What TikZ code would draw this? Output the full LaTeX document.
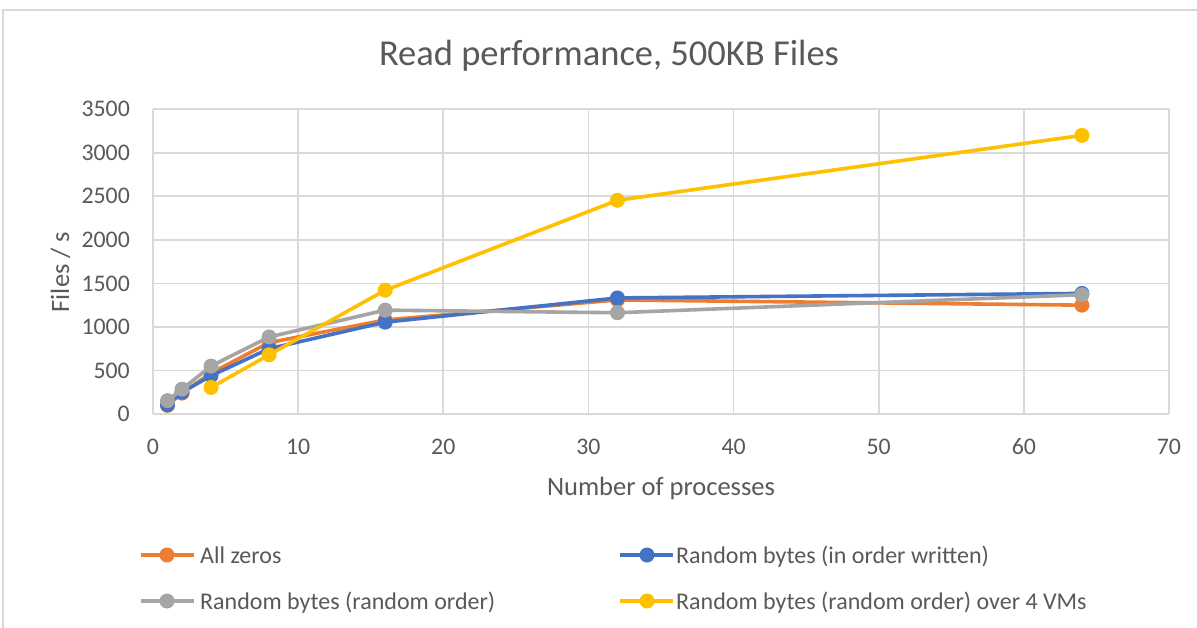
\documentclass[tikz,border=0pt]{standalone}
\usepackage{fontspec}
\setmainfont{Carlito}
\definecolor{txt}{HTML}{595959}
\definecolor{grid}{HTML}{D9D9D9}
\definecolor{sorange}{HTML}{ED7D31}
\definecolor{sblue}{HTML}{4472C4}
\definecolor{sgray}{HTML}{A5A5A5}
\definecolor{syellow}{HTML}{FFC000}
\tikzset{
  gridline/.style={draw=grid, line width=1.7pt},
  series/.style={line width=3.6pt, line join=round},
  ticklab/.style={text=txt, font=\fontsize{23.8}{26}\selectfont, inner sep=0pt},
  axtitle/.style={text=txt, font=\fontsize{26.5}{29}\selectfont, inner sep=0pt},
  leglab/.style={text=txt, font=\fontsize{24}{26}\selectfont, inner sep=0pt, anchor=base west},
}
\begin{document}
\begin{tikzpicture}[x=1pt,y=-1pt]
\useasboundingbox (0,0) rectangle (1197,627);
\fill[white] (0,0) rectangle (1197,627);
% frame
\draw[grid, line width=1.7pt] (3,640) -- (3,10) -- (1210,10);
% title
\node[text=txt, font=\fontsize{36.5}{40}\selectfont, inner sep=0pt, anchor=base] (title) at (609,65) {Read performance, 500KB Files};
% chart
\begin{scope}[shift={(153pt,-414pt)}, x=14.514pt, y=0.08706pt]
  \foreach \v in {500,1000,...,3500} \draw[gridline] (0,\v) -- (70,\v);
  \foreach \u in {0,10,...,70} \draw[gridline] (\u,0) -- (\u,3500);
  \draw[gridline] (0,0) -- (70,0);
  \foreach \v in {0,500,...,3500} \node[ticklab, anchor=east] (yl\v) at ([xshift=-23pt]0,\v) {\v};
  \foreach \u in {0,10,...,70} \node[ticklab] (xl\u) at ([yshift=-33pt]\u,0) {\u};
  % series
  \draw[series, sorange] (1,100) -- (2,240) -- (4,470) -- (8,820) -- (16,1080) -- (32,1310) -- (64,1250);
  \foreach \p in {(1,100),(2,240),(4,470),(8,820),(16,1080),(32,1310),(64,1250)} \fill[sorange] \p circle[radius=7.5pt];
  \draw[series, sblue] (1,105) -- (2,250) -- (4,440) -- (8,750) -- (16,1055) -- (32,1333) -- (64,1385);
  \foreach \p in {(1,105),(2,250),(4,440),(8,750),(16,1055),(32,1333),(64,1385)} \fill[sblue] \p circle[radius=7.5pt];
  \draw[series, sgray] (1,153) -- (2,285) -- (4,550) -- (8,885) -- (16,1193) -- (32,1163) -- (64,1370);
  \foreach \p in {(1,153),(2,285),(4,550),(8,885),(16,1193),(32,1163),(64,1370)} \fill[sgray] \p circle[radius=7.5pt];
  \draw[series, syellow] (4,305) -- (8,680) -- (16,1422) -- (32,2455) -- (64,3200);
  \foreach \p in {(4,305),(8,680),(16,1422),(32,2455),(64,3200)} \fill[syellow] \p circle[radius=7.5pt];
\end{scope}
% axis titles
\node[axtitle, anchor=base] (xtitle) at (661,495) {Number of processes};
\node[axtitle, rotate=90, anchor=base] (ytitle) at (69,272) {Files / s};
% legend
\draw[series, sorange] (141,555) -- (194,555); \fill[sorange] (167,555) circle[radius=7.5pt];
\node[leglab] (l1) at (200,563) {All zeros};
\draw[series, sblue] (620,555) -- (673,555); \fill[sblue] (647,555) circle[radius=7.5pt];
\node[leglab] (l2) at (676,563) {Random bytes (in order written)};
\draw[series, sgray] (141,601) -- (194,601); \fill[sgray] (167,601) circle[radius=7.5pt];
\node[leglab] (l3) at (200,609) {Random bytes (random order)};
\draw[series, syellow] (620,601) -- (673,601); \fill[syellow] (647,601) circle[radius=7.5pt];
\node[leglab] (l4) at (676,609) {Random bytes (random order) over 4 VMs};
\end{tikzpicture}
\end{document}
